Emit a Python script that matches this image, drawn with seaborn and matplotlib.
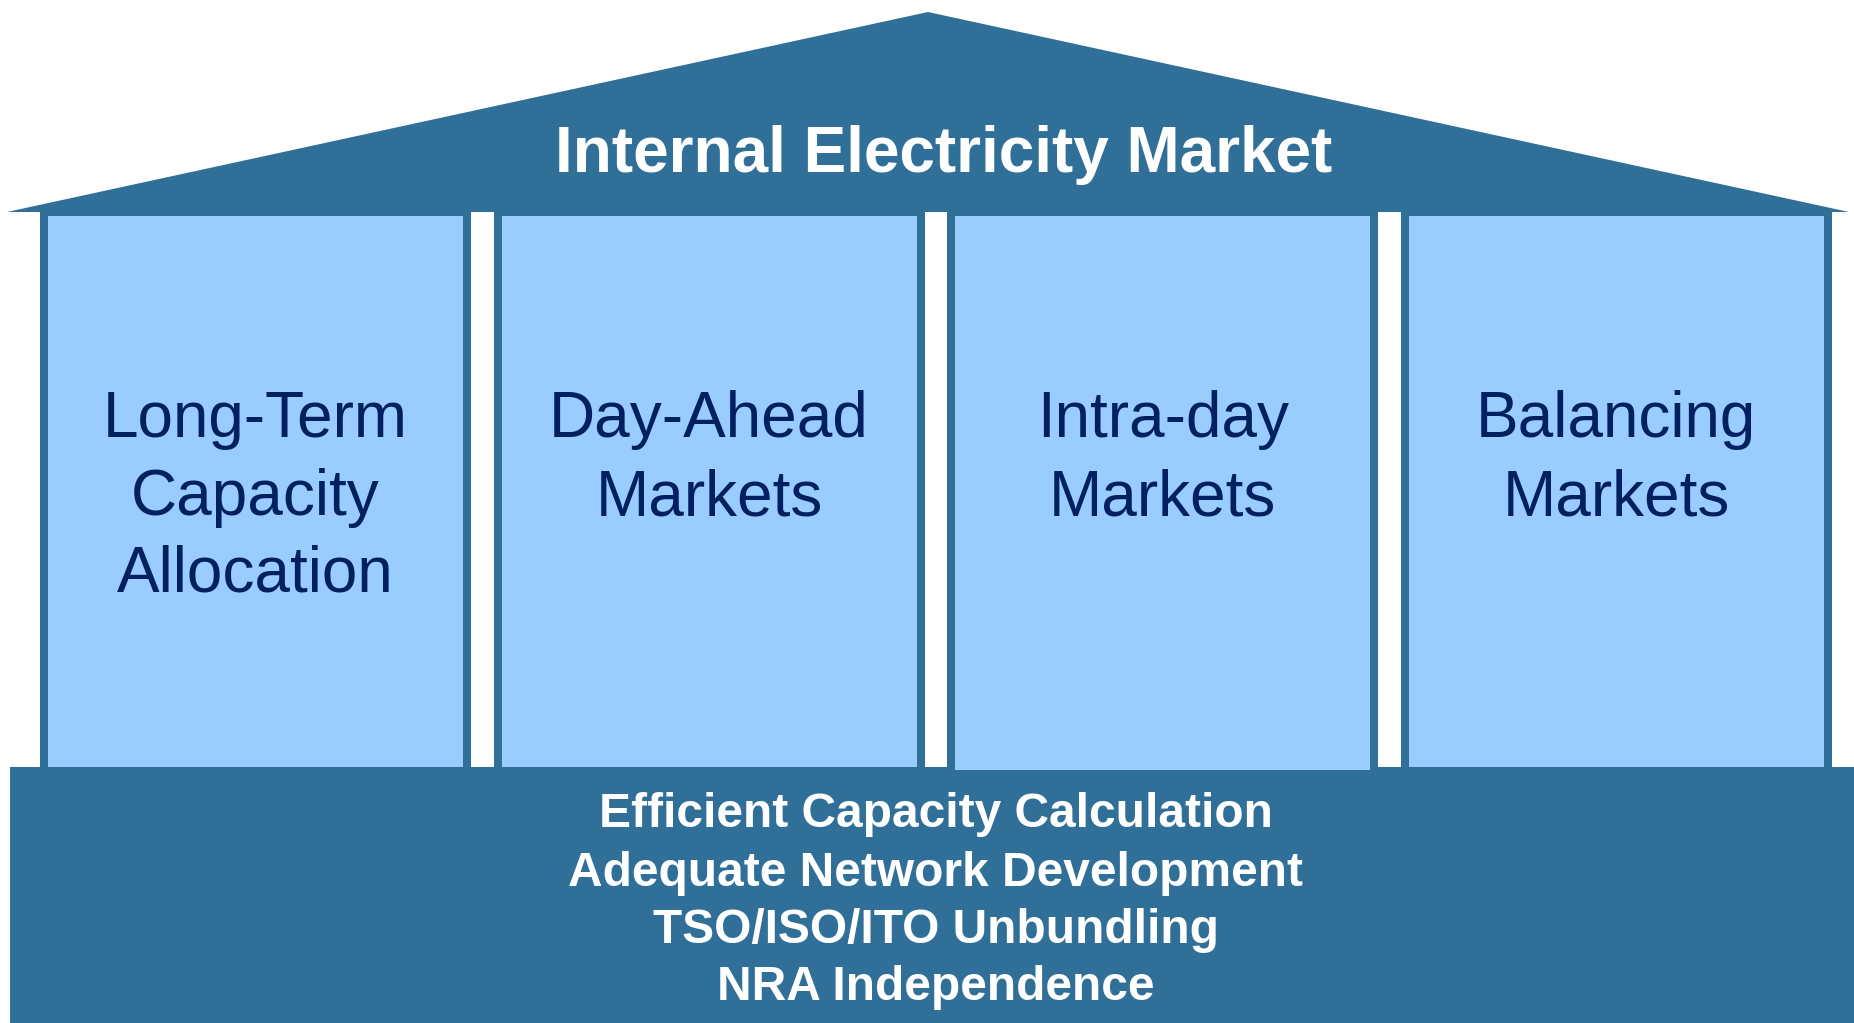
import matplotlib
matplotlib.use("Agg")
import matplotlib.pyplot as plt
from matplotlib.patches import Polygon, Rectangle
import seaborn as sns

# diagram content
roof_title = "Internal Electricity Market"
pillar_labels = [
    ["Long-Term", "Capacity", "Allocation"],
    ["Day-Ahead", "Markets"],
    ["Intra-day", "Markets"],
    ["Balancing", "Markets"],
]
foundation_lines = [
    "Efficient Capacity Calculation",
    "Adequate Network Development",
    "TSO/ISO/ITO Unbundling",
    "NRA Independence",
]

DARK = "#2F6F98"
LIGHT = "#99CCFF"
NAVY = "#002060"

W, H = 1854, 1023

sns.set_theme(style="white")
plt.rcParams["font.family"] = ["Liberation Sans", "DejaVu Sans"]

fig = plt.figure(figsize=(W / 100, H / 100), dpi=100)
ax = fig.add_axes([0, 0, 1, 1])
ax.set_xlim(0, W)
ax.set_ylim(H, 0)
ax.axis("off")

# foundation
ax.add_patch(Rectangle((9.6, 767), W - 9.6, H - 767, color=DARK, lw=0, zorder=1))

# pillars (outer dark frame + light face)
pillar_w = 431
pitch = 453.6
border = 8
top = 212
bottoms = [767, 767, 770, 767]
lefts = [40 + i * pitch for i in range(len(pillar_labels))]
centers = [l + pillar_w / 2 for l in lefts]

ax.bar(centers, [b - top for b in bottoms], bottom=top, width=pillar_w,
       color=DARK, linewidth=0, zorder=2)
ax.bar(centers, [b - (top + 4) for b in bottoms], bottom=top + 4,
       width=pillar_w - 2 * border, color=LIGHT, linewidth=0, zorder=3)

# roof
ax.add_patch(Polygon([(7, 212), (928, 12), (1849, 212)], closed=True,
                     color=DARK, lw=0, zorder=4))

ax.text(944, 172, roof_title, ha="center", va="baseline", color="white",
        fontsize=46, fontweight="bold", zorder=5)

# pillar labels
line_y = [437, 515, 591]
for cx, lines in zip(centers, pillar_labels):
    for y, s in zip(line_y, lines):
        ax.text(cx, y, s, ha="center", va="baseline", color=NAVY,
                fontsize=46, zorder=5)

# foundation labels
base_y = [827, 886, 943, 1000]
for y, s in zip(base_y, foundation_lines):
    ax.text(936, y, s, ha="center", va="baseline", color="white",
            fontsize=34.5, fontweight="bold", zorder=5)

fig.savefig("out.png", dpi=100, facecolor="white")
plt.close(fig)
